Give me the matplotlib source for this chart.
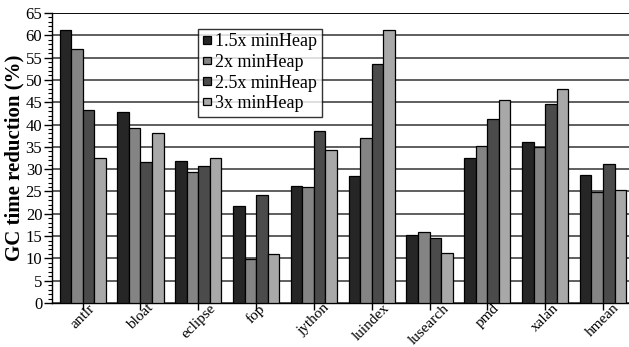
import matplotlib.pyplot as plt
from matplotlib.ticker import MultipleLocator
import numpy as np

plt.rcParams['font.family'] = ['Liberation Serif', 'DejaVu Serif']

benchmarks = ['antlr', 'bloat', 'eclipse', 'fop', 'jython', 'luindex',
              'lusearch', 'pmd', 'xalan', 'hmean']
series_names = ['1.5x minHeap', '2x minHeap', '2.5x minHeap', '3x minHeap']
heap15 = [61.3, 42.8, 31.9, 21.8, 26.2, 28.5, 15.3, 32.6, 36.1, 28.6]
heap2 = [56.9, 39.2, 29.4, 9.9, 26.1, 37.0, 15.9, 35.3, 35.0, 24.9]
heap25 = [43.2, 31.7, 30.6, 24.1, 38.5, 53.5, 14.6, 41.3, 44.5, 31.2]
heap3 = [32.5, 38.0, 32.4, 11.0, 34.4, 61.2, 11.2, 45.5, 47.9, 25.3]

colors = ['#262626', '#848484', '#4b4b4b', '#a8a8a8']

fig = plt.figure(figsize=(6.29, 3.47), dpi=100)
ax = fig.add_axes([0.0827, 0.1268, 0.9173, 0.8357])

x = np.arange(len(benchmarks))
w = 0.2
for i, (vals, name) in enumerate(zip([heap15, heap2, heap25, heap3], series_names)):
    ax.bar(x + (i - 1.5) * w, vals, w, color=colors[i], edgecolor='black',
           linewidth=0.9, label=name, zorder=3)

ax.set_ylim(0, 65)
ax.set_xlim(-0.53, 9.45)
ax.yaxis.set_major_locator(MultipleLocator(5))
ax.yaxis.set_minor_locator(MultipleLocator(1))
ax.yaxis.grid(True, color='#333333', linewidth=1.1, zorder=0)
ax.set_axisbelow(True)

for s in ['top', 'right']:
    ax.spines[s].set_visible(False)
ax.axhline(65, color='black', linewidth=1.2, zorder=1)
ax.spines['left'].set_linewidth(1.0)
ax.spines['bottom'].set_linewidth(1.0)

ax.set_xticks(x)
ax.set_xticklabels(benchmarks, rotation=45, ha='center', fontsize=11)
ax.tick_params(axis='x', length=5, width=1, direction='out', pad=-6)
ax.tick_params(axis='y', which='major', length=6, width=1, labelsize=12, pad=1)
ax.tick_params(axis='y', which='minor', length=3, width=0.8)

ax.set_ylabel('GC time reduction (%)', fontsize=15, fontweight='bold', labelpad=1)

leg = ax.legend(loc='upper left', bbox_to_anchor=(0.253, 0.945), borderaxespad=0,
                fontsize=13, frameon=True, fancybox=False, edgecolor='black',
                handlelength=0.45, handleheight=0.25, handletextpad=0.25,
                labelspacing=0.2, borderpad=0.25)
leg.get_frame().set_linewidth(1.0)
leg.set_zorder(5)

fig.savefig('out.png', dpi=100)
